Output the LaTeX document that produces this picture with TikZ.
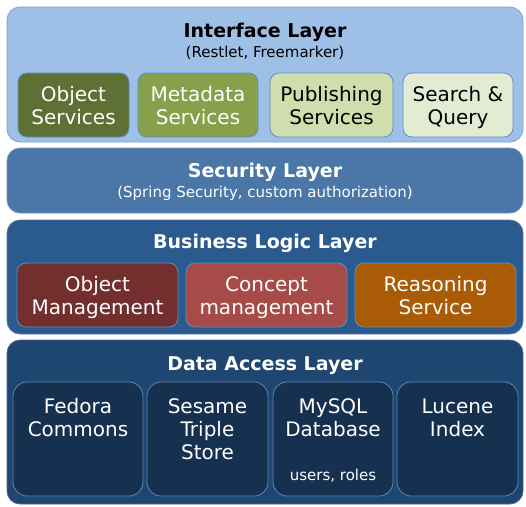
\documentclass[tikz,border=0pt]{standalone}
\usepackage{fontspec}
\setmainfont{DejaVu Sans}
\definecolor{ifbg}{HTML}{9EC0E6}
\definecolor{ifbd}{HTML}{7BA3D3}
\definecolor{secbg}{HTML}{4A77A7}
\definecolor{bizbg}{HTML}{2B5B8E}
\definecolor{databg}{HTML}{1F4670}
\definecolor{dboxbg}{HTML}{16304F}
\definecolor{dboxbd}{HTML}{5A86B8}
\definecolor{osc}{HTML}{5E7033}
\definecolor{msc}{HTML}{87A04B}
\definecolor{psc}{HTML}{D0DEAE}
\definecolor{sqc}{HTML}{E3ECD2}
\definecolor{omc}{HTML}{722F2D}
\definecolor{cmc}{HTML}{A64B47}
\definecolor{rsc}{HTML}{A95B06}
\definecolor{boxbd}{HTML}{5F8EC4}
\begin{document}
\begin{tikzpicture}[x=1pt,y=-1pt,
  layer/.style={rounded corners=13pt,inner sep=0pt,outer sep=0pt},
  sbox/.style={rounded corners=9pt,draw=boxbd,line width=0.8pt,inner sep=0pt,outer sep=0pt},
  dbox/.style={sbox,draw=dboxbd,fill=dboxbg,rounded corners=14pt,minimum height=114pt},
  boxtxt/.style={align=center,inner sep=0pt,font=\fontsize{20}{23}\selectfont},
  title/.style={inner sep=0pt,font=\bfseries\fontsize{19}{22}\selectfont},
  subtitle/.style={inner sep=0pt,font=\fontsize{15}{18}\selectfont}]
\useasboundingbox (0,0) rectangle (526,506);
% layers
\node[layer,fill=ifbg,draw=ifbd,line width=0.8pt,minimum width=516pt,minimum height=135pt] (iface) at (265,74.5) {};
\node[layer,fill=secbg,draw=secbg!80!white,line width=0.8pt,minimum width=516pt,minimum height=65pt] (sec) at (265,180.5) {};
\node[layer,fill=bizbg,draw=bizbg!80!white,line width=0.8pt,minimum width=516pt,minimum height=114pt] (biz) at (265,277) {};
\node[layer,fill=databg,draw=databg!80!white,line width=0.8pt,minimum width=516pt,minimum height=164pt] (data) at (265,422) {};
% titles
\node[title,text=black] (iftitle) at (265,32.5) {Interface Layer};
\node[subtitle,text=black] (ifsub) at (265,53) {(Restlet, Freemarker)};
\node[title,text=white] (sectitle) at (265,172.5) {Security Layer};
\node[subtitle,text=white] (secsub) at (265,193) {(Spring Security, custom authorization)};
\node[title,text=white] (biztitle) at (265,243.5) {Business Logic Layer};
\node[title,text=white] (datatitle) at (265,365.5) {Data Access Layer};
% interface boxes
\node[sbox,fill=osc,minimum width=111pt,minimum height=64pt] (os) at (73.5,105) {};
\node[boxtxt,text=white] (ost) at (73.5,108.2) {\strut Object\\Services\strut};
\node[sbox,fill=msc,minimum width=120pt,minimum height=64pt] (ms) at (198,105) {};
\node[boxtxt,text=white] (mst) at (198,108.2) {\strut Metadata\\Services\strut};
\node[sbox,fill=psc,minimum width=123pt,minimum height=64pt] (ps) at (331.5,105) {};
\node[boxtxt,text=black] (pst) at (331.5,108.2) {\strut Publishing\\Services\strut};
\node[sbox,fill=sqc,minimum width=110pt,minimum height=64pt] (sq) at (458,105) {};
\node[boxtxt,text=black] (sqt) at (458,108.2) {\strut Search \&\\Query\strut};
% business boxes
\node[sbox,fill=omc,minimum width=161pt,minimum height=64pt] (om) at (97.5,295) {};
\node[boxtxt,text=white] (omt) at (97.5,298.2) {\strut Object\\Management\strut};
\node[sbox,fill=cmc,minimum width=161pt,minimum height=64pt] (cm) at (266.5,295) {};
\node[boxtxt,text=white] (cmt) at (266.5,298.2) {\strut Concept\\management\strut};
\node[sbox,fill=rsc,minimum width=161pt,minimum height=64pt] (rs) at (435.5,295) {};
\node[boxtxt,text=white] (rst) at (435.5,298.2) {\strut Reasoning\\Service\strut};
% data boxes
\node[dbox,minimum width=130pt] (fc) at (78,439) {};
\node[boxtxt,text=white] (fct) at (78,420.2) {\strut Fedora\\Commons\strut};
\node[dbox,minimum width=121pt] (st) at (207.5,439) {};
\node[boxtxt,text=white] (stt) at (207.5,431.7) {\strut Sesame\\Triple\\Store\strut};
\node[dbox,minimum width=120pt] (my) at (333,439) {};
\node[boxtxt,text=white] (myt) at (333,420.2) {\strut MySQL\\Database\strut};
\node[subtitle,text=white] (myu) at (333,476) {users, roles};
\node[dbox,minimum width=121pt] (li) at (457.5,439) {};
\node[boxtxt,text=white] (lit) at (457.5,420.2) {\strut Lucene\\Index\strut};
\end{tikzpicture}
\end{document}
